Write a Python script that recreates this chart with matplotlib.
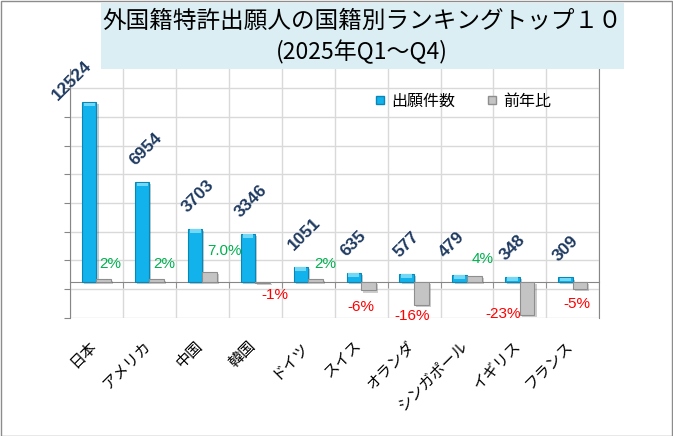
import numpy as np
import matplotlib
matplotlib.use('Agg')
import matplotlib.pyplot as plt
import matplotlib.patheffects as pe
from matplotlib.lines import Line2D
from matplotlib.patches import Rectangle
from matplotlib.transforms import ScaledTranslation

# data
countries = ['日本', 'アメリカ', '中国', '韓国', 'ドイツ', 'スイス', 'オランダ', 'シンガポール', 'イギリス', 'フランス']
applications = [12524, 6954, 3703, 3346, 1051, 635, 577, 479, 348, 309]
yoy = [0.02, 0.02, 0.07, -0.01, 0.02, -0.06, -0.16, 0.04, -0.23, -0.05]
yoy_labels = ['2%', '2%', '7.0%', '-1%', '2%', '-6%', '-16%', '4%', '-23%', '-5%']

# label nudges in pixels (dx, dy), as placed by hand in the original
val_nudge = [(-27, 5), (-3, 19), (-3, 19), (-3, 19), (-3, 19), (-3, 19), (-3, 19), (-11, 20), (-3, 19), (-3, 19)]
pct_nudge = [(7, 15), (8, 15), (15, 21), (12, -12), (10, 15), (-8, -17), (-9, -11), (8, 17), (-24, 1), (-3, -15)]

plt.rcParams['font.family'] = ['Noto Sans CJK JP', 'DejaVu Sans']
JP = ['Noto Sans CJK JP', 'DejaVu Sans']
NUM = ['Liberation Sans', 'DejaVu Sans']
BLUE = '#12B2EC'
BLUE_EDGE = '#0B86B4'
GRAY = '#C4C4C4'
GRAY_EDGE = '#8E8E8E'
AXIS = '#868686'
GRID = '#D9D9D9'

W, H = 673, 436
fig = plt.figure(figsize=(W / 100, H / 100), dpi=100)
fig.patch.set_facecolor('white')

ax = fig.add_axes([70 / W, 1 - 317.7 / H, 529.3 / W, 248.7 / H])
ax2 = ax.twinx()

# spine position first: moving it resets the ticks
ax.spines['bottom'].set_position(('data', 0))
ax.spines['bottom'].set_color(AXIS)
ax.spines['left'].set_color(AXIS)
ax.spines['top'].set_visible(False)
ax.spines['right'].set_visible(False)
for s in ['top', 'left', 'bottom']:
    ax2.spines[s].set_visible(False)
ax2.spines['right'].set_color(AXIS)

ymin, ymax = -2500, 14850
ax.set_ylim(ymin, ymax)
ax2.set_ylim(-0.25, -0.25 * ymax / ymin)
ax.set_xlim(-0.5, len(countries) - 0.5)

x = np.arange(len(countries))
bw = 0.275
shadow = [pe.SimplePatchShadow(offset=(1.5, -1.5), alpha=0.25), pe.Normal()]

bars = ax.bar(x - bw / 2, applications, bw, color=BLUE, edgecolor=BLUE_EDGE, linewidth=0.8, zorder=3)
for b in bars:
    b.set_path_effects(shadow)
# light bevel on top of the blue bars
ax.bar(x - bw / 2, [250] * len(x), bw * 0.75, bottom=np.array(applications) - 280,
       color='#72D8F6', linewidth=0, zorder=4)

gbars = ax2.bar(x + bw / 2, yoy, bw, color=GRAY, edgecolor=GRAY_EDGE, linewidth=0.8, zorder=3)
for b in gbars:
    b.set_path_effects(shadow)

# value labels (rotated)
for i, v in enumerate(applications):
    dx, dy = val_nudge[i]
    ax.annotate(str(v), xy=(x[i] - bw, v), xytext=(dx * 0.72, dy * 0.72), textcoords='offset points',
                rotation=45, rotation_mode='anchor', ha='left', va='center',
                fontsize=12.5, fontweight='bold', color='#1F3A60', family=NUM, zorder=6)

for i, v in enumerate(yoy):
    dx, dy = pct_nudge[i]
    ax2.annotate(yoy_labels[i], xy=(x[i] + bw / 2, v), xytext=(dx * 0.72, dy * 0.72), textcoords='offset points',
                 ha='center', va='center', fontsize=11, family=NUM,
                 color='#00B050' if v >= 0 else '#FF0000', zorder=6)

# axes styling
ax.set_yticks(np.arange(ymin, ymax, 2000))
ax.tick_params(axis='y', which='major', length=4.3, color=AXIS, labelleft=False)
ax2.set_yticks([])
ax.set_xticks(x)
ax.set_xticks(np.arange(-0.5, len(countries)), minor=True)
ax.set_xticklabels(countries, family=JP, fontsize=11, rotation=45, ha='right', va='top')
ax.tick_params(axis='x', which='major', length=0, pad=40)
ax.tick_params(axis='x', which='minor', length=4.3, color=AXIS, direction='out')
off = ScaledTranslation(4 / 100, 0, fig.dpi_scale_trans)
for lab in ax.get_xticklabels():
    lab.set_transform(lab.get_transform() + off)

ax.grid(axis='y', which='major', color=GRID, linewidth=1)
ax.grid(axis='x', which='minor', color=GRID, linewidth=1)
ax.set_axisbelow(True)

# legend
handles = [Line2D([], [], marker='s', ls='none', markersize=6, markerfacecolor=BLUE, markeredgecolor=BLUE_EDGE),
           Line2D([], [], marker='s', ls='none', markersize=6, markerfacecolor=GRAY, markeredgecolor=GRAY_EDGE)]
fig.legend(handles, ['出願件数', '前年比'], loc='center left', bbox_to_anchor=(375 / W, 1 - 101.5 / H),
           ncol=2, frameon=False, prop={'family': JP, 'size': 11.5}, handlelength=0.6,
           handletextpad=0.4, columnspacing=2.0, borderpad=0, borderaxespad=0)

# title box
fig.add_artist(Rectangle((101 / W, 1 - 69.3 / H), 523 / W, 66 / H, transform=fig.transFigure,
                         facecolor='#DAEEF3', edgecolor='none', zorder=5))
fig.text(362 / W, 1 - 21 / H, '外国籍特許出願人の国籍別ランキングトップ１０', ha='center', va='center',
         fontsize=17, family=JP, zorder=6)
fig.text(362 / W, 1 - 51.5 / H, '(2025年Q1～Q4)', ha='center', va='center',
         fontsize=16.5, family=JP, zorder=6)

# outer border
fig.add_artist(Rectangle((0.5 / W, 0.5 / H), (W - 1.5) / W, (H - 1.5) / H, transform=fig.transFigure,
                         facecolor='none', edgecolor='#8C8C8C', linewidth=1, zorder=7))

fig.savefig('out.png', dpi=100)
